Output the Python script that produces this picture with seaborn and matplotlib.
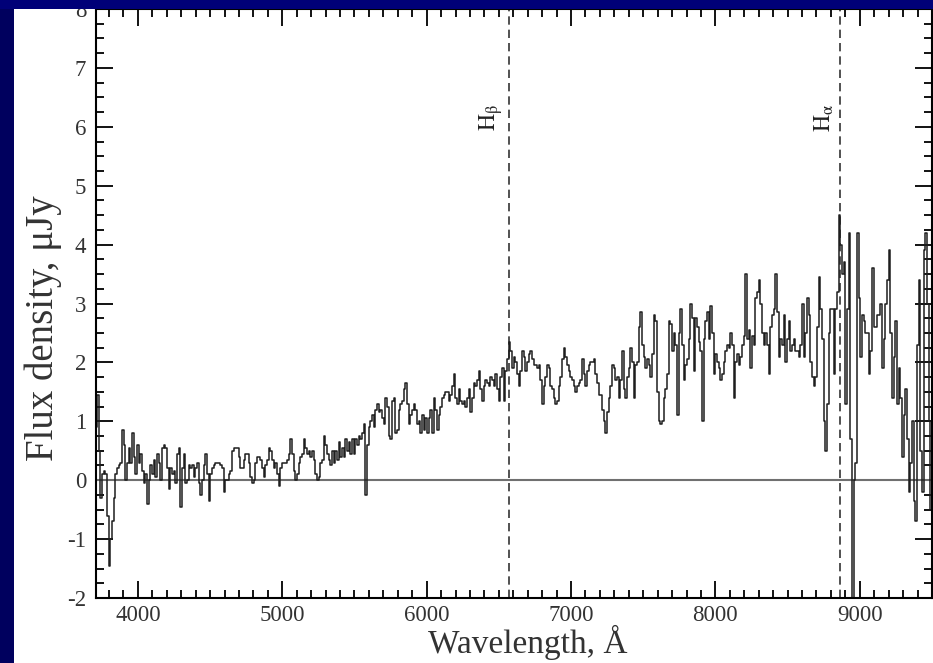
import numpy as np
import pandas as pd
import seaborn as sns
import matplotlib.pyplot as plt
from matplotlib.patches import Rectangle
from matplotlib.ticker import MultipleLocator

# Spectrum sampled on a linear wavelength grid (start and pixel size in Angstrom).
pixel_start = 3712.0
pixel_step = 11.54

# Flux density in microJansky.
flux = [
    0.9, 1.45, 0.5, -0.3, 0.1, 0.15, 0.1, -0.6, -1.45, -1.0, -0.7, -0.3, 0.1, 0.2, 0.25, 0.3,
    0.85, 0.6, 0.0, 0.3, 0.55, 0.3, 0.8, 0.4, 0.1, 0.6,
    0.3, 0.45, 0.15, -0.05, 0.1, -0.4, 0.0, 0.25, 0.1, 0.35, 0.05, 0.45, 0.3, 0.0, 0.55, 0.6,
    0.55, 0.2, -0.15, 0.2, 0.1, 0.15, -0.05, 0.45, 0.55, -0.45, 0.2, 0.45, -0.05, 0.0, 0.25,
    0.2, 0.25, 0.05, 0.2, 0.3, -0.05, -0.25, 0.0, 0.25, 0.45, 0.1, -0.35, 0.1, 0.2, 0.25, 0.3,
    0.3, 0.3, 0.25, 0.2, -0.2, 0.0, 0.0, 0.1, 0.15, 0.5, 0.55, 0.55, 0.55, 0.4, 0.2, 0.2, 0.35,
    0.45, 0.45, 0.3, 0.05, -0.05, 0.0, 0.3, 0.4, 0.4, 0.35, 0.2,
    0.05, 0.25, 0.35, 0.55, 0.5, 0.35, 0.2, 0.3, 0.1, -0.1, 0.2, 0.3, 0.3, 0.3, 0.35, 0.45,
    0.7, 0.45, 0.15, 0.0, 0.1, 0.3, 0.4, 0.45, 0.7, 0.55, 0.45, 0.5, 0.4, 0.5, 0.35, 0.1, 0.0,
    0.05, 0.3, 0.35, 0.75, 0.6, 0.45, 0.35, 0.25, 0.5, 0.3, 0.5, 0.35, 0.65, 0.4, 0.55, 0.4,
    0.7, 0.5, 0.65, 0.45, 0.7, 0.45, 0.7, 0.6, 0.75, 0.7, 0.8, 0.95, -0.25, 0.6, 0.9, 1.0, 1.1,
    0.9, 1.2, 1.3, 1.15, 1.2, 1.05, 0.95, 1.4, 1.25, 0.75, 0.7, 1.35, 1.4, 0.8, 0.85, 1.2, 1.3,
    1.35, 1.55, 1.65, 1.3, 0.95, 1.1, 1.2, 1.3, 1.2, 0.95, 1.0, 0.8, 1.1, 0.85, 1.05,
    0.8, 1.05, 1.2, 0.8, 1.4, 1.2, 0.85, 1.1, 1.25, 1.4, 1.45, 1.5, 1.5, 1.35, 1.45, 1.6, 1.8,
    1.4, 1.3, 1.55, 1.35, 1.3, 1.35, 1.25, 1.4, 1.55, 1.15, 1.4, 1.65, 1.6, 1.7, 1.85, 1.55,
    1.35, 1.6, 1.7, 1.65, 1.6, 1.75, 1.7, 1.6, 1.8, 1.55, 1.35, 1.75, 1.9, 1.35, 1.85, 2.05,
    2.35, 2.2, 1.9, 2.1, 2.0, 1.8, 1.6, 1.85, 2.2, 2.1, 1.85, 2.0, 2.15, 2.2, 2.05, 1.95, 1.95,
    1.9, 1.95, 1.7, 1.3, 1.6, 1.75, 1.95, 1.9, 1.6, 1.55, 1.4, 1.3, 1.35, 1.6, 1.75, 2.05, 2.25,
    2.1, 1.95, 1.85, 1.75, 1.7, 1.6, 1.5, 1.6, 1.65, 1.7, 2.05, 1.8, 1.6, 1.85, 1.95, 2.0, 2.0,
    2.05, 1.8, 1.65, 1.45, 1.45, 1.2, 1.0, 0.8, 1.15, 1.4, 1.6, 1.95, 1.9, 1.7, 1.75, 1.4, 1.7,
    2.2, 1.55, 1.4, 1.75, 1.9, 2.25, 2.0, 1.4, 1.95, 2.0, 2.6, 2.85, 2.3, 2.1, 1.9, 2.05, 1.95,
    1.75, 2.15, 2.8, 2.7, 1.5, 1.0, 0.95, 1.0, 1.4, 1.55, 1.8, 2.7, 2.65, 2.2, 2.5, 2.3, 1.1,
    2.5, 2.9, 2.3, 1.7, 1.95, 2.05, 2.4, 3.0, 2.75, 1.85, 2.75, 2.6, 2.35, 2.2, 1.0, 2.4, 2.7,
    2.85, 2.4, 2.95, 2.5, 1.8, 2.15, 2.0, 1.9, 1.7, 1.8, 2.0, 2.2, 2.3, 2.25, 2.5, 2.3, 1.4,
    2.0, 2.15, 1.95, 2.1, 2.3, 2.45, 3.5, 2.4, 2.55, 1.9, 2.45, 2.3,
    3.1, 3.2, 3.4, 3.0, 2.5, 2.3, 2.5, 2.3, 1.8, 2.6, 2.8, 2.9, 3.5, 2.85, 2.1, 2.4, 2.3, 2.8,
    2.0, 2.4, 2.7, 2.2, 2.3, 2.4, 2.2, 2.2, 2.1, 2.3, 3.0, 2.1, 2.5, 3.1, 2.8, 2.0, 1.75, 1.6,
    1.75, 2.6, 3.45, 2.9, 2.4, 1.0, 0.5, 1.3, 2.5, 2.9, 2.9, 1.8, 2.9, 3.2, 4.5, 4.0, 3.5, 3.7,
    1.3, 2.9, 4.2, 0.7, -2.5, 0.0, 0.3, 4.2, 3.1, 2.1, 2.8, 2.7, 2.5, 2.5, 1.8, 2.2, 3.6, 2.6,
    2.6, 2.8, 2.8, 3.0, 1.9, 2.4, 3.0, 3.4, 3.9, 2.5, 1.4, 2.1, 2.7, 1.3, 1.9, 1.4, 0.4, 1.1,
    1.55, 0.7, -0.2, 0.3, 1.0, -0.35, -0.7, 2.3, 3.4, 0.5, -0.2, 3.9, 4.2, 3.0, 1.0, -0.5, -1.5,
]
wavelength = pixel_start + pixel_step * np.arange(len(flux))

# Balmer lines at the galaxy redshift.
line_names = [r"$\mathrm{H}_{\mathrm{\beta}}$", r"$\mathrm{H}_{\mathrm{\alpha}}$"]
line_wavelengths = [6570, 8860]

spectrum = pd.DataFrame({"wavelength": wavelength, "flux": flux})

sns.set_style("ticks")
plt.rcParams["font.family"] = ["Liberation Serif", "DejaVu Serif"]
plt.rcParams["mathtext.fontset"] = "stix"
plt.rcParams["axes.unicode_minus"] = False

fig = plt.figure(figsize=(9.33, 6.63), dpi=100, facecolor="white")
ax = fig.add_axes([96 / 933, 65 / 663, 836 / 933, 589 / 663])

# Zero level and line markers.
ax.axhline(0, color="#707070", lw=1.5, zorder=1)
for name, lam in zip(line_names, line_wavelengths):
    ax.axvline(lam, color="#333333", lw=1.2, ls=(0, (5, 3)), zorder=1)
    ax.text(lam - 25, 6.15, name, rotation=90, ha="right", va="center",
            fontsize=17, color="#222222")

sns.lineplot(data=spectrum, x="wavelength", y="flux", ax=ax, color="#1e1e1e",
             lw=1.1, drawstyle="steps-mid", estimator=None, sort=False, zorder=2)

ax.set_xlim(3710, 9500)
ax.set_ylim(-2, 8)
ax.set_xticks([4000, 5000, 6000, 7000, 8000, 9000])
ax.set_yticks(range(-2, 9))
ax.xaxis.set_minor_locator(MultipleLocator(100))
ax.yaxis.set_minor_locator(MultipleLocator(0.25))
ax.tick_params(which="both", direction="in", top=True, right=True, color="black",
               width=1.3, labelsize=16.5, labelcolor="#333333")
ax.tick_params(which="major", length=12, pad=7)
ax.tick_params(axis="x", which="major", pad=5)
ax.tick_params(which="minor", length=6)
for side in ax.spines.values():
    side.set_linewidth(1.5)
    side.set_color("black")

ax.set_xlabel("Wavelength, Å", fontsize=24, color="#333333", va="bottom")
ax.set_ylabel("Flux density, μJy", fontsize=28, color="#333333")
ax.xaxis.set_label_coords(0.517, -0.106)
ax.yaxis.set_label_coords(-0.041, 0.458)

# Dark blue slide frame on the left and top.
fig.patches.append(Rectangle((0, 0), 14 / 933, 1, transform=fig.transFigure,
                             facecolor="#00005e", edgecolor="none", zorder=10))
fig.patches.append(Rectangle((0, 1 - 9 / 663), 1, 9 / 663, transform=fig.transFigure,
                             facecolor="#000078", edgecolor="none", zorder=10))

fig.savefig("out.png", dpi=100, facecolor=fig.get_facecolor())
